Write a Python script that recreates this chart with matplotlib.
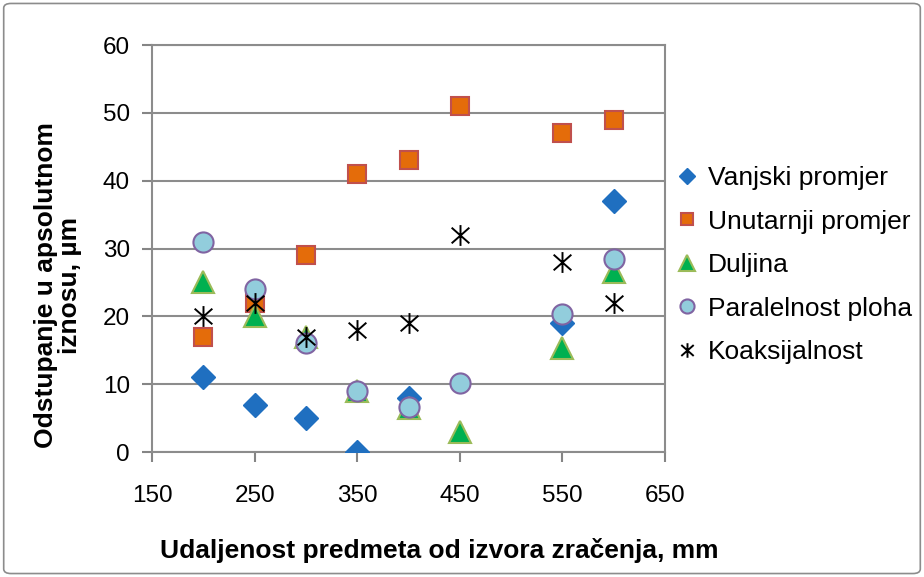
import matplotlib
matplotlib.use("Agg")
import matplotlib.pyplot as plt
from matplotlib.path import Path
from matplotlib.patches import FancyBboxPatch

plt.rcParams['font.family'] = ['Liberation Sans', 'DejaVu Sans']

# data
x_vanjski = [200, 250, 300, 350, 400, 550, 600]
vanjski = [11, 7, 5, 0, 8, 19, 37]

x_all = [200, 250, 300, 350, 400, 450, 550, 600]
unutarnji = [17, 22, 29, 41, 43, 51, 47, 49]
duljina = [25, 20, 17, 9, 6.5, 3, 15.3, 26.5]
paralelnost = [31, 24, 16, 9, 6.7, 10.2, 20.3, 28.5]
koaksijalnost = [20, 22, 17, 18, 19, 32, 28, 22]

x_ticks = [150, 250, 350, 450, 550, 650]
y_ticks = [0, 10, 20, 30, 40, 50, 60]

# asterisk marker: vertical bar plus an X
star = Path([(0, -1), (0, 1), (-0.85, -0.75), (0.85, 0.75), (-0.85, 0.75), (0.85, -0.75)],
            [Path.MOVETO, Path.LINETO, Path.MOVETO, Path.LINETO, Path.MOVETO, Path.LINETO])

fig = plt.figure(figsize=(9.24, 5.77), dpi=100)
fig.patches.append(FancyBboxPatch((0.004, 0.006), 0.992, 0.988, boxstyle="round,pad=0,rounding_size=0.008",
                                  transform=fig.transFigure, facecolor='white', edgecolor='#8c8c8c',
                                  linewidth=1.2, zorder=-1))
ax = fig.add_axes([0.1645, 0.2166, 0.5552, 0.7054])

ax.plot(x_vanjski, vanjski, linestyle='none', marker='D', markersize=12, color='#1f6fc0',
        markeredgecolor='#1f6fc0', label='Vanjski promjer', zorder=3)
ax.plot(x_all, unutarnji, linestyle='none', marker='s', markersize=13, color='#e46c0a',
        markeredgecolor='#c0504d', markeredgewidth=1.5, label='Unutarnji promjer', zorder=3)
ax.plot(x_all, duljina, linestyle='none', marker='^', markersize=16, color='#00b050',
        markeredgecolor='#9bbb59', markeredgewidth=1.5, label='Duljina', zorder=3)
ax.plot(x_all, paralelnost, linestyle='none', marker='o', markersize=14.5, color='#92cddc',
        markeredgecolor='#8064a2', markeredgewidth=1.5, label='Paralelnost ploha', zorder=3)
ax.plot(x_all, koaksijalnost, linestyle='none', marker=star, markersize=15, color='black',
        markeredgecolor='black', markeredgewidth=1.4, label='Koaksijalnost', zorder=3)

ax.set_xlim(150, 650)
ax.set_ylim(0, 60)
ax.set_xticks(x_ticks)
ax.set_yticks(y_ticks)
ax.tick_params(labelsize=17.5, colors='#858585', labelcolor='black', length=7, width=1.5, direction='out')
ax.tick_params(axis='y', pad=9)
ax.tick_params(axis='x', pad=17)
ax.grid(axis='y', color='#8c8c8c', linewidth=1.5)
ax.set_axisbelow(True)
for s in ax.spines.values():
    s.set_color('#8c8c8c')
    s.set_linewidth(1.5)

ax.set_xlabel('Udaljenost predmeta od izvora zračenja, mm', fontsize=19, fontweight='bold', va='center')
ax.xaxis.set_label_coords(0.56, -0.241)
ax.set_ylabel('Odstupanje u apsolutnom\niznosu, µm', fontsize=19, fontweight='bold', va='center',
              linespacing=1.0)
ax.yaxis.set_label_coords(-0.184, 0.41)

leg = ax.legend(loc='upper left', bbox_to_anchor=(678 / 924, 1 - 166 / 577), bbox_transform=fig.transFigure,
                frameon=False, fontsize=19, borderpad=0, borderaxespad=0,
                handlelength=0.7, handletextpad=0.45, labelspacing=0.74, markerscale=0.7)

fig.savefig('out.png', dpi=100)
